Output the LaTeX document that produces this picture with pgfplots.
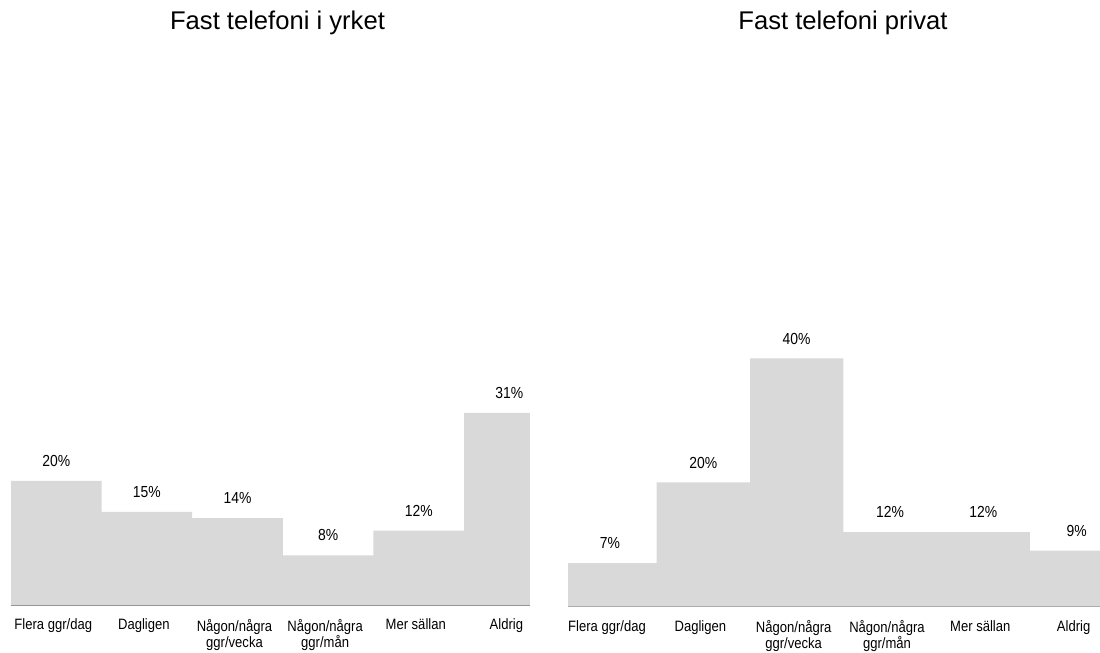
\documentclass[border=0pt]{standalone}
\usepackage{fontspec}
\setmainfont{Liberation Sans}
\newfontfamily\narrowsf[FakeStretch=0.87]{Liberation Sans}
\usepackage{pgfplots}
\pgfplotsset{compat=1.18}

\definecolor{barfill}{RGB}{217,217,217}
\definecolor{baseline}{RGB}{150,150,150}

% 1 px of the reference = 0.5pt
\pgfplotsset{
  stepbar/.style={
    scale only axis,
    ybar, bar width=1,
    ymin=0, ymax=48,
    height=148.8pt,
    axis y line=none,
    axis x line=bottom,
    x axis line style={-, draw=baseline, line width=0.9pt},
    major tick length=0pt,
    xtick={0,...,5},
    xticklabels={Flera ggr/dag, Dagligen, Någon/några\\ggr/vecka, Någon/några\\ggr/mån, Mer sällan, Aldrig},
    xticklabel style={font=\narrowsf\fontsize{7.5}{8}\selectfont, align=center, yshift=-3.5pt, xshift=-1.5pt},
    /pgf/number format/assume math mode=true,
    nodes near coords={\pgfmathprintnumber{\pgfplotspointmeta}\%},
    nodes near coords style={font=\narrowsf\fontsize{8}{9}\selectfont, anchor=center, yshift=10pt, text=black},
  },
}

\begin{document}
\begin{tikzpicture}
\useasboundingbox (0,0) rectangle (550pt,326.5pt);

\begin{axis}[stepbar,
    at={(5.5pt,24pt)}, anchor=south west,
    width=259.5pt,
    xmin=-0.5, xmax=5.228]
  \addplot[fill=barfill, draw=none] coordinates {
    (0,20) (1,15) (2,14) (3,8) (4,12) (5,31)
  };
\end{axis}

\begin{axis}[stepbar,
    at={(284pt,23.25pt)}, anchor=south west,
    width=266pt,
    xmin=-0.45, xmax=5.25]
  \addplot[fill=barfill, draw=none] coordinates {
    (0,7) (1,20) (2,40) (3,12) (4,12) (5,9)
  };
\end{axis}

\node[anchor=base, font=\fontsize{12.8}{14}\selectfont] at (138.75pt,311.5pt) {Fast telefoni i yrket};
\node[anchor=base, font=\fontsize{12.8}{14}\selectfont] at (421.5pt,311.5pt) {Fast telefoni privat};
\end{tikzpicture}
\end{document}
